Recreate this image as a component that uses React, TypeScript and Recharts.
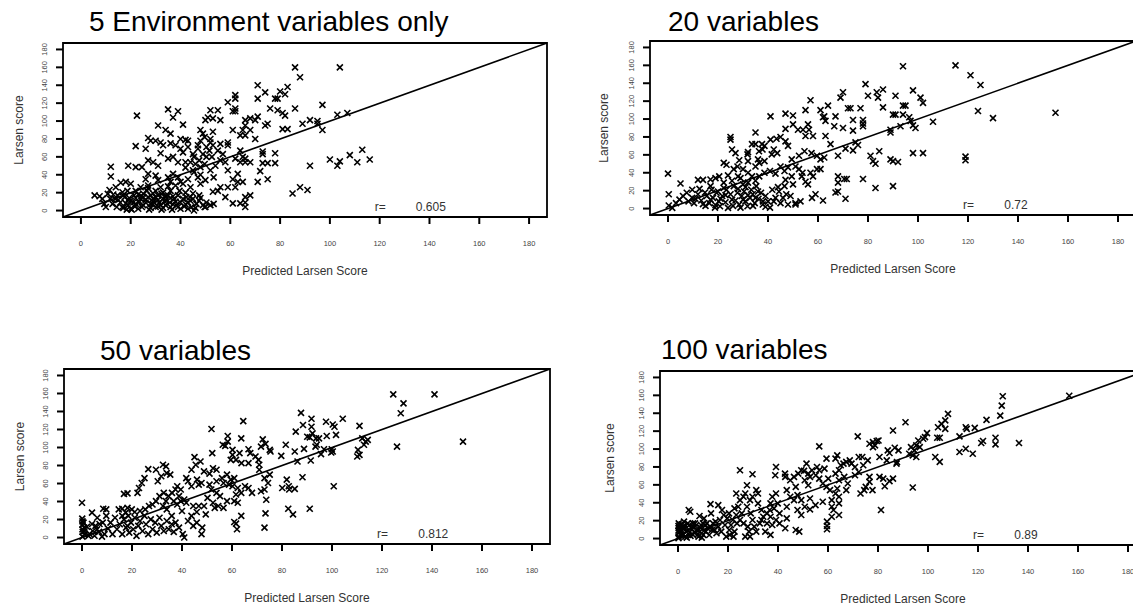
import { ScatterChart, Scatter, XAxis, YAxis, ReferenceArea, ReferenceLine } from "recharts";

// Both axes run 0..180, padded by 4% each side like R's default plot region
const AXIS_MIN = -7.2;
const AXIS_MAX = 187.2;
const AXIS_TICKS = [0, 20, 40, 60, 80, 100, 120, 140, 160, 180];

const PANEL_TITLES = ["5 Environment variables only", "20 variables", "50 variables", "100 variables"];
const R_VALUES = ["0.605", "0.72", "0.812", "0.89"];
const X_LABEL = "Predicted Larsen Score";
const Y_LABEL = "Larsen score";

// [predicted, observed]
const envOnlyPoints: [number, number][] = [
  [86, 160], [88, 149], [104, 160], [71, 140], [83, 138], [74, 132], [80, 133], [82, 130], [62, 129], [62, 125],
  [71, 125], [78, 125], [79, 125], [59, 121], [97, 118], [86, 114], [76, 114], [62, 114], [52, 112], [55, 112],
  [61, 111], [62, 111], [79, 112], [81, 109], [103, 107], [107, 109], [82, 106], [71, 105], [68, 103], [66, 101],
  [70, 101], [89, 97], [92, 101], [95, 97], [97, 90], [81, 91], [83, 91], [95, 100], [56, 101], [53, 103],
  [51, 104], [50, 101], [61, 90], [66, 95], [65, 90], [68, 90], [70, 80], [66, 84], [64, 84], [74, 95],
  [75, 97], [53, 88], [52, 80], [48, 90], [49, 86], [59, 76], [59, 73], [73, 66], [73, 63], [78, 64],
  [68, 54], [73, 53], [75, 53], [78, 53], [72, 44], [75, 35], [71, 32], [113, 68], [108, 62], [116, 57],
  [100, 57], [104, 55], [111, 54], [103, 50], [92, 50], [88, 26], [91, 23], [85, 19], [59, 45], [61, 35],
  [63, 41], [63, 32], [65, 32], [62, 26], [59, 26], [56, 26], [55, 22], [53, 21], [61, 8], [64, 8],
  [66, 15], [68, 17], [66, 9], [66, 4], [58, 15], [52, 6], [50, 4], [62, 58], [64, 54], [65, 60],
  [64, 67], [66, 58], [66, 54], [56, 56], [57, 63], [55, 67], [53, 73], [52, 76], [54, 50], [58, 54],
  [22.5, 106], [35, 113], [39, 111], [37, 104], [41, 96], [31, 95], [34, 90], [36, 86], [22, 72], [27, 81],
  [26, 69], [28, 78], [30, 78], [32, 76], [33, 73], [36, 75], [38, 73], [40, 80], [42, 79], [43, 78],
  [40, 69], [41, 65], [43, 71], [45, 63], [47, 69], [32, 64], [27, 56], [29, 54], [35, 58], [37, 60],
  [39, 54], [31, 50], [24.5, 48.5], [22, 48.5], [19, 50], [12, 49], [12, 38], [27, 41], [30, 39], [35, 37],
  [37, 41], [39, 37], [42, 48], [45, 45], [46, 52], [47, 37], [48, 40], [50, 34], [48, 30], [43, 35],
  [40, 32], [36, 32], [31, 34], [26, 35], [24, 26], [27, 28], [32, 26], [16, 31], [18, 32], [20, 30],
  [11.5, 23], [22, 22], [36, 22], [42, 20], [45, 19], [5.5, 17], [7.5, 16], [8.6, 13], [9.4, 7.5], [10, 4],
  [12.7, 7.5], [13.8, 13], [14.7, 17], [15.8, 9], [16.6, 4], [17.6, 15], [18.4, 1], [19, 6], [20, 11], [20.4, 1],
  [21.3, 17], [22, 7.5], [24, 13], [24.5, 4], [25, 19], [26, 9], [27, 15], [27.4, 1], [28, 7.5], [29, 13],
  [30, 4], [31, 17], [31.4, 9], [32.4, 1], [33, 13], [34, 6], [35, 17], [35.7, 9], [36.6, 1], [37.4, 13],
  [38.3, 6], [39, 17], [40, 9], [41.5, 4.5], [42.3, 15], [43, 9], [44.4, 4], [45, 13], [46.4, 7.5], [47.5, 11],
  [49, 6], [50.4, 9], [45.4, 0], [18, 8], [19.4, 14], [16.7, 20.5], [18.7, 22], [14, 26], [26.5, 22], [30, 22],
  [32.4, 18.6], [39.6, 22], [28.8, 7.5], [31, 4.5], [33.7, 10], [21.6, 4.5], [23.3, 9], [24.2, 16], [14.4, 4], [11.8, 13],
  [10.8, 18.6], [37, 7], [41, 13], [43.8, 15], [47.5, 17], [49.7, 4], [53.3, 7.5], [45.4, 60], [47.5, 56], [48, 48.5],
  [49.7, 52], [50.4, 60], [49, 63], [47, 73], [48, 78], [49.7, 82], [50.4, 71], [51.6, 67], [52.6, 60], [56, 74.5],
  [45.4, 43], [52, 45], [53.3, 37], [42, 54], [44, 54], [17, 3], [19, 12], [21, 9], [23, 2], [25, 6],
  [26, 12], [28, 3], [29, 10], [30, 15], [32, 6], [33, 3], [34, 12], [36, 4], [37, 16], [38, 10],
  [40, 2], [42, 7], [44, 11], [46, 3], [48, 14], [29, 19], [33, 20], [23, 18], [15, 12], [13, 18],
  [27, 25], [35, 27], [38, 28], [44, 26], [41, 30], [17, 17], [20, 2], [22, 14], [28, 17], [31, 12],
  [34, 16], [39, 4], [43, 2], [25, 15], [36, 14],
];

const twentyVarPoints: [number, number][] = [
  [94, 159], [115, 160], [121, 149], [125, 138], [155, 107], [124, 109], [130, 101], [119, 58], [119, 54], [90, 25],
  [83, 23], [102, 62], [98, 62], [92, 52], [89, 55], [90, 53], [81, 59], [82, 53], [83, 50], [78, 33],
  [70.5, 33], [71.5, 33], [68, 36], [68, 29], [68, 19], [67, 18], [71, 11], [79, 139], [83.5, 130], [84, 124],
  [80, 126], [86, 133], [91, 126], [98, 132], [101, 124], [102, 118], [95, 115], [94, 115], [86, 113], [77, 112],
  [73, 112], [72, 112], [69, 124], [70, 130], [57, 121], [64, 115], [61, 110], [55, 110], [47, 106], [41, 103],
  [50, 104], [62.5, 103], [67, 103], [63, 98], [62, 102], [66.5, 92], [70, 90], [74, 87], [74, 99], [78, 99],
  [78, 92], [78, 95], [89, 88], [89, 85], [90, 105], [91, 105], [94, 105], [96.5, 102], [97, 98], [98, 93],
  [99, 90], [93, 92], [106, 97], [75, 74], [71, 67], [74, 65], [76, 71], [84.5, 64], [68, 59], [65, 72],
  [63, 81], [58, 81], [55, 81], [54, 88], [56, 94], [56.4, 88], [52, 88], [50, 94], [47, 89], [35, 85],
  [25, 80], [25, 77], [25.6, 66], [27, 62], [33.6, 72], [35, 72], [37.6, 72], [38.6, 70], [36.4, 64], [37.8, 66],
  [41, 77], [43.4, 78], [45, 80], [47, 75], [48, 70], [42.3, 66], [43.7, 62], [41.5, 60.5], [32, 63], [31.8, 60.5],
  [36, 55], [36.5, 51], [38.6, 53], [22.3, 51], [23.4, 49], [49.5, 55], [52.4, 59], [54.6, 64], [57.4, 62], [59.6, 59],
  [61, 55], [62.5, 57], [59.6, 44], [61, 44], [58, 36], [56, 27], [59, 16], [57.6, 12], [62, 9], [52.4, 44],
  [53.8, 40], [53.5, 36], [51, 47], [48, 46], [46.6, 42], [45, 47], [49.5, 36], [50, 27], [47.3, 16], [49, 14],
  [51, 4.5], [51, 6], [48, 4.5], [46, 12], [44.4, 19], [42.3, 8], [40.8, 1], [43, 39], [40.8, 42], [38.6, 40],
  [36.5, 36], [35, 31], [32, 29], [29, 34], [28, 36], [24, 37], [20.5, 36], [19, 34], [17, 32.5], [14, 32],
  [12, 32], [5, 28], [0, 39], [0.3, 16], [0.3, 3.4], [1.7, 0.7], [3.2, 6], [4.6, 10], [6, 14], [7.5, 17.6],
  [8.2, 8], [9.7, 12], [10.4, 6], [12, 16], [13.3, 9], [14.8, 18], [15.5, 14], [16.5, 6], [17.4, 21], [18, 12],
  [18.8, 1], [19.4, 17.6], [20.3, 8], [20.8, 2.6], [21.7, 14], [22.3, 23], [23, 7], [24, 0.7], [25, 16], [25.6, 10],
  [26.3, 25], [27.8, 17.6], [28.5, 4.5], [29.5, 14], [30.4, 19], [31, 8], [31.8, 2.6], [32.8, 12], [33.3, 21], [33.9, 16],
  [34.7, 6], [35.3, 25], [36.2, 11], [37.2, 17.6], [37.9, 4.5], [39, 14], [40, 8], [41.7, 21], [43, 12], [45, 6],
  [46.6, 25], [53, 8], [22.3, 29], [25.6, 31], [30, 27], [23.4, 21], [17, 25], [12.6, 22], [9.7, 21], [33.6, 36],
  [32, 40], [30, 44], [27.8, 47], [26.3, 44], [35, 47], [32, 53], [28.5, 54], [19, 4], [21, 11], [23, 15],
  [26, 3], [27, 9], [29, 1], [30, 10], [32, 15], [34, 3], [35, 12], [36, 19], [38, 8], [39, 2],
  [20, 19], [17, 10], [15, 3], [11, 11], [14, 5], [28, 22], [31, 24], [44, 24], [47, 32], [55, 30],
  [57, 40],
];

const fiftyVarPoints: [number, number][] = [
  [124.5, 159], [141, 159], [128.6, 149], [127.5, 138], [126, 101], [152.4, 106.5], [100.7, 57], [87.6, 138.5], [91.8, 132], [104.3, 132],
  [97.6, 128.6], [100.3, 125.6], [101, 123], [88.4, 125], [91.8, 123], [111, 124], [85.5, 117.6], [92.2, 115.7], [101.6, 114], [97.9, 112.8],
  [91.1, 111.3], [90.1, 112], [93.6, 110.2], [94.8, 110.2], [93.9, 103], [93.4, 101], [81.5, 103], [88.8, 98.5], [99.9, 98], [100.3, 95.5],
  [99.7, 94.4], [95.6, 92.6], [96.8, 98], [110.4, 97.4], [111, 91.8], [110.1, 90], [112.1, 110.2], [113.5, 106.5], [114.3, 108.4], [112.8, 103],
  [85.1, 95.5], [86.2, 84.5], [79.7, 90.7], [91.5, 85.6], [88.2, 67], [81.9, 64.3], [82.7, 57], [80.1, 55], [85.1, 54], [82.9, 53.3],
  [82.5, 32], [84.4, 25.7], [91.1, 32], [73.4, 26.8], [73, 11], [73.7, 42], [71.6, 51.4], [73, 53.3], [74.4, 60.6], [75.1, 69.8],
  [73, 66], [70.9, 75.3], [75.1, 97.4], [75.4, 95.5], [71.6, 101], [73.4, 104], [72.3, 109], [66.6, 98], [67.3, 93.7], [69.4, 90],
  [70.6, 86.3], [70.9, 80.8], [66.6, 82.7], [63.8, 82.7], [63, 93.7], [63.7, 110.2], [64.5, 129.3], [58.3, 112.8], [58.3, 106.5], [56.3, 103],
  [57.3, 101.8], [51.8, 120.5], [52.1, 93.7], [60.2, 91.8], [60.2, 97.4], [61.6, 86.3], [59.5, 86.3], [52.4, 77], [53.8, 75.3], [51, 71],
  [48.8, 73.5], [45, 89.3], [47.4, 84.5], [45.5, 80.8], [43.8, 75.3], [41.7, 66], [42.4, 62.5], [46, 64.3], [46.7, 58.8], [43.8, 57],
  [47.8, 60.6], [51, 58.8], [53.8, 62.5], [56, 66], [58, 69.8], [59.5, 64.3], [60.9, 66], [56.6, 60.6], [58.8, 58.8], [60.2, 57],
  [62.3, 55], [65.2, 57], [66.6, 55], [68, 49.6], [63.7, 49.6], [61.6, 47.8], [60.9, 40.4], [62.3, 38.6], [58, 40.4], [55.2, 46],
  [53.8, 49.6], [51.7, 53.3], [50.2, 44], [52.4, 38.6], [54.5, 35], [56.6, 33], [53.1, 33], [60.9, 17.3], [63.7, 24], [62, 9.2],
  [61.6, 15.4], [49.5, 25.7], [46.7, 35], [48.8, 35], [44.5, 35], [45.9, 28.3], [43.8, 24], [40, 29.4], [42.4, 18.4], [45.9, 16.5],
  [48.1, 11], [47.8, 3.7], [44.5, 13], [40.9, 0], [40.3, 3.7], [38.8, 11], [37.4, 16.5], [35.9, 24], [33.9, 31.2], [32.4, 35],
  [33.6, 40.4], [34.6, 46], [36, 49.6], [37.4, 53.3], [38.1, 57], [39.5, 53.3], [38.8, 46], [39.5, 40.4], [40.9, 42.2], [41.7, 38.6],
  [38.1, 36.7], [36.7, 40.4], [32.4, 80.8], [33.6, 79], [29.6, 75.3], [26.5, 76], [25, 66], [23.9, 60.6], [22.8, 55], [22.2, 49.6],
  [18.2, 49], [30.3, 62.5], [31.7, 68], [33.9, 71.6], [35.3, 69.8], [32.7, 49.6], [31, 46], [29.6, 40.4], [28.2, 36.7], [26.8, 35],
  [25.3, 31.2], [23.2, 29.4], [21.1, 28.3], [18.2, 33], [16.1, 32], [14.7, 31.2], [4, 27.6], [8.5, 32], [0, 38.6], [0.1, 21],
  [0.6, 16.5], [0.9, 11], [0.3, 6.2], [1.1, 3.7], [2.6, 1.8], [4.3, 7.3], [5.4, 13], [6.8, 6.2], [8.3, 16.5], [9, 3.7],
  [9.7, 24], [10.4, 9.9], [11.4, 16.5], [12.2, 3.7], [13.2, 22], [14, 9.2], [15.1, 14.7], [16.1, 3.7], [16.8, 20.2], [17.6, 11],
  [18.5, 24], [18.9, 5.5], [19.6, 16.5], [20.5, 9.2], [21.1, 22], [21.8, 1.8], [22.5, 13], [23.2, 18.4], [24.2, 7.3], [25, 24],
  [25.6, 14.7], [26.5, 3.7], [27.5, 20.2], [28.2, 9.2], [29.3, 16.5], [29.9, 5.5], [31, 22], [31.7, 13], [32.7, 7.3], [33.9, 18.4],
  [34.7, 9.2], [35.9, 14.7], [36.7, 6.2], [18.2, 13], [17.5, 27.6], [19.9, 31.2], [16.1, 24], [9.7, 31.2], [6.1, 22], [16.8, 48.5],
  [0.2, 1], [0.2, 9], [0.2, 14], [0.2, 18], [1, 7], [2, 12], [3, 4], [4, 15], [5, 2], [6, 9],
  [7, 15], [8, 1],
];

const hundredVarPoints: [number, number][] = [
  [129.9, 159], [129.5, 148.5], [128.9, 137.4], [156.5, 159.6], [123.4, 132.6], [118.7, 123.7], [115.1, 124.4], [115.5, 122.6], [112.6, 114.1], [122, 109],
  [121.3, 106.7], [127, 112.6], [127, 105.2], [136.4, 106.7], [115.1, 100.4], [112.6, 96.7], [117.9, 94.8], [108, 139.3], [106.9, 132], [105.4, 128.1],
  [104, 124.4], [106.9, 122.6], [103.7, 112.6], [104.7, 112.6], [102.9, 91.1], [104.7, 85.6], [91, 130], [86, 120.7], [99.6, 117.8], [98.8, 113.3],
  [98.1, 111.5], [96.1, 109.6], [95.3, 104.1], [96.7, 102.2], [93.2, 102.2], [94.6, 98.5], [93.9, 93], [95.3, 91.1], [92.5, 94.8], [93.9, 57],
  [88.2, 98.5], [86.7, 101.5], [83.9, 98.5], [84.6, 95.6], [87.4, 83.7], [87.6, 85.5], [83.5, 87.4], [80.6, 91.1], [79.5, 109], [78, 107.8],
  [78, 102.2], [78.8, 104.1], [80.2, 109.6], [76.6, 105.9], [71.9, 114.1], [80.6, 68.9], [82.1, 67], [82.7, 58.5], [86, 67], [84.6, 64.1],
  [81.2, 31.9], [77.8, 54.1], [76.6, 63.3], [75.1, 57.8], [74.5, 54.1], [73, 50.4], [76.6, 68.9], [72.3, 91.1], [73.7, 91.1], [75.9, 87.4],
  [74.1, 81.9], [70.8, 80], [69.4, 83.7], [68.7, 87.4], [67.3, 85.6], [66.2, 83.7], [65.1, 81.9], [63.7, 93], [63, 89.3], [64.4, 76.3],
  [63, 72.6], [64.4, 65.2], [66.5, 68.9], [70.8, 70.7], [72.3, 74.4], [67.9, 61.5], [67.3, 54.1], [63.7, 55.9], [63, 50.4], [64.4, 46.7],
  [60.8, 54.1], [60.1, 67], [59.4, 57.8], [57.9, 61.5], [58.6, 78.1], [59.4, 89.3], [56.5, 103], [56.5, 76.3], [55.1, 70.7], [56.5, 67],
  [57.9, 41.1], [59.6, 18.9], [59.6, 14.1], [59.6, 10.4], [61.5, 43], [61.5, 35.6], [62.2, 31.9], [61.5, 24.4], [64.4, 39.3], [64.4, 26.3],
  [55, 37.4], [52.8, 32.6], [52.8, 44.8], [52.1, 59.6], [50.7, 65.2], [52.8, 68.9], [49.3, 76.3], [50.4, 75.6], [52.1, 72.6], [51.4, 83.7],
  [53.6, 76.3], [55.6, 80], [48.1, 72.6], [46.4, 68.9], [47.1, 57.8], [44.9, 65.2], [43.5, 54.1], [39.2, 80], [38.9, 70.7], [42.8, 72.6],
  [42.9, 68.9], [44.9, 46.7], [46.4, 43], [47.8, 48.5], [49.3, 43], [49.3, 26.3], [50.7, 35.6], [47.1, 9.6], [48.5, 7.8], [47.8, 31.9],
  [43.5, 35.6], [42.9, 11.5], [43.5, 22.6], [40.6, 28.1], [39.9, 39.3], [39.2, 50.4], [37.7, 46.7], [37, 39.3], [38.4, 33.7], [36.7, 31.9],
  [37, 24.4], [35.6, 17], [37, 4.1], [34.9, 7.8], [34.1, 24.4], [33.4, 31.9], [32, 39.3], [32, 50.4], [29.8, 71.9], [31.3, 54.1],
  [29.8, 46.7], [28.8, 43], [27.6, 59.6], [26.9, 50.4], [24.8, 76.3], [26.2, 46.7], [24.8, 43], [23.3, 50.4], [24.1, 35.6], [25.5, 28.1],
  [27.6, 35.6], [29.1, 28.1], [29.8, 20.7], [30.5, 13.3], [28.4, 7.8], [26.9, 2.2], [26.2, 17], [24.8, 20.7], [23.3, 26.3], [21.9, 20.7],
  [21.2, 15.2], [22.6, 7.8], [20.7, 4.1], [19.7, 22.6], [18.3, 26.3], [17.6, 31.9], [16.8, 20.7], [16.1, 13.3], [15.4, 5.9], [14, 17],
  [13.2, 28.1], [13, 38.5], [11.8, 11.5], [11.1, 7.8], [10.4, 22.6], [9.2, 15.2], [8.6, 25.2], [7.5, 9.6], [6.8, 17], [6, 4.1],
  [4.9, 30], [4.3, 31.9], [3.9, 17], [3.2, 7.8], [2, 13.3], [1, 4.1], [0.3, 17], [0.3, 11.5], [0.3, 6.7], [0.3, 2.2],
  [0.7, 15.2], [1.4, 9.6], [2.4, 18.9], [2.9, 2.2], [4.6, 6.7], [5.8, 13.3], [8.2, 2.2], [10.1, 4.1], [11.5, 17], [13.5, 9.6],
  [15, 18.9], [17.3, 7.8], [18.8, 15.2], [19.3, 2.2], [20.5, 9.6], [22.2, 2.2], [23.6, 17], [27.9, 13.3], [28.8, 2.2], [31.3, 7.8],
  [32.7, 17], [33.4, 20.7], [35.6, 28.1], [37.7, 15.2], [39.2, 20.7], [40.6, 17], [16.1, 37.4], [20.4, 28.1], [22.6, 33.7], [0.5, 13],
  [1, 8], [1.5, 16], [2, 4], [2.5, 11], [3, 14], [3.5, 1], [4, 9], [4.5, 15], [5, 3], [5.5, 11],
  [6.5, 7], [7, 14], [8, 5], [9, 12], [9.5, 1], [10.5, 9], [11, 15], [12.5, 4], [13, 13], [14.5, 10],
  [0.2, 9], [0.2, 14], [0.2, 0.5], [1.8, 12], [6, 17], [8, 9], [10, 17],
];

type Panel = {
  title: string;
  r: string;
  points: [number, number][];
  left: number; // plot region, page pixels
  top: number;
  width: number;
  height: number;
  titleX: number;
  titleY: number;
  yLabelX: number;
};

const PANELS: Panel[] = [
  { title: PANEL_TITLES[0], r: R_VALUES[0], points: envOnlyPoints, left: 63, top: 43, width: 484, height: 174, titleX: 89, titleY: 31, yLabelX: 19 },
  { title: PANEL_TITLES[1], r: R_VALUES[1], points: twentyVarPoints, left: 650, top: 41, width: 486, height: 174, titleX: 668, titleY: 31, yLabelX: 604 },
  { title: PANEL_TITLES[2], r: R_VALUES[2], points: fiftyVarPoints, left: 64, top: 369, width: 486, height: 175, titleX: 100, titleY: 360, yLabelX: 20 },
  { title: PANEL_TITLES[3], r: R_VALUES[3], points: hundredVarPoints, left: 660, top: 371, width: 486, height: 174, titleX: 661, titleY: 359, yLabelX: 610 },
];

const FONT = "'Liberation Sans', Arial, Helvetica, sans-serif";
const Y_AXIS_W = 40;
const PAD = 6;
const X_AXIS_H = 40;
const TICK_LEN = 7;
const X_TICK_GAP = 19;
const Y_TICK_GAP = 11;

const toPxX = (p: Panel, v: number) => p.left + ((v - AXIS_MIN) / (AXIS_MAX - AXIS_MIN)) * p.width;
const toPxY = (p: Panel, v: number) => p.top + ((AXIS_MAX - v) / (AXIS_MAX - AXIS_MIN)) * p.height;

// pch = 4 style cross
// eslint-disable-next-line @typescript-eslint/no-explicit-any
const Cross = (props: any) => {
  const { cx, cy } = props;
  if (cx == null || cy == null) return null;
  const s = 3;
  return (
    <path
      d={`M${cx - s},${cy - s}L${cx + s},${cy + s}M${cx - s},${cy + s}L${cx + s},${cy - s}`}
      stroke="#000"
      strokeWidth={1.6}
      fill="none"
    />
  );
};

// tick mark + label; x/y arrive at the label anchor, so the mark sits back toward the box
// eslint-disable-next-line @typescript-eslint/no-explicit-any
const XTick = ({ x, y, payload }: any) => (
  <g>
    <line
      x1={x}
      x2={x}
      y1={Number(y) - X_TICK_GAP - TICK_LEN}
      y2={Number(y) - X_TICK_GAP}
      stroke="#000"
      strokeWidth={2}
    />
    <text x={x} y={y} textAnchor="middle" dominantBaseline="central" fontSize={7.5} fill="#444" fontFamily={FONT}>
      {payload.value}
    </text>
  </g>
);

// eslint-disable-next-line @typescript-eslint/no-explicit-any
const YTick = ({ x, y, payload }: any) => (
  <g>
    <line
      x1={Number(x) + Y_TICK_GAP + TICK_LEN}
      x2={Number(x) + Y_TICK_GAP}
      y1={y}
      y2={y}
      stroke="#000"
      strokeWidth={2}
    />
    <text
      x={x}
      y={y}
      transform={`rotate(-90 ${x} ${y})`}
      textAnchor="middle"
      dominantBaseline="central"
      fontSize={7.5}
      fill="#444"
      fontFamily={FONT}
    >
      {payload.value}
    </text>
  </g>
);

function ScatterPanel({ p }: { p: Panel }) {
  const data = p.points.map(([x, y]) => ({ x, y }));
  return (
    <div style={{ position: "absolute", left: p.left - Y_AXIS_W, top: p.top - PAD }}>
      <ScatterChart
        width={p.width + Y_AXIS_W + PAD}
        height={p.height + PAD + X_AXIS_H}
        margin={{ top: PAD, right: PAD, bottom: 0, left: 0 }}
      >
        <XAxis
          type="number"
          dataKey="x"
          domain={[AXIS_MIN, AXIS_MAX]}
          ticks={AXIS_TICKS}
          interval={0}
          allowDataOverflow
          axisLine={false}
          tickLine={false}
          tickSize={TICK_LEN}
          tickMargin={X_TICK_GAP}
          tick={XTick}
          height={X_AXIS_H}
        />
        <YAxis
          type="number"
          dataKey="y"
          domain={[AXIS_MIN, AXIS_MAX]}
          ticks={AXIS_TICKS}
          interval={0}
          allowDataOverflow
          axisLine={false}
          tickLine={false}
          tickSize={TICK_LEN}
          tickMargin={Y_TICK_GAP}
          tick={YTick}
          width={Y_AXIS_W}
        />
        <Scatter data={data} shape={Cross} isAnimationActive={false} />
        <ReferenceLine
          segment={[
            { x: AXIS_MIN, y: AXIS_MIN },
            { x: AXIS_MAX, y: AXIS_MAX },
          ]}
          stroke="#000"
          strokeWidth={1.6}
        />
        <ReferenceArea
          x1={AXIS_MIN}
          x2={AXIS_MAX}
          y1={AXIS_MIN}
          y2={AXIS_MAX}
          fill="none"
          fillOpacity={0}
          stroke="#000"
          strokeWidth={1.8}
        />
      </ScatterChart>
    </div>
  );
}

export default function App() {
  return (
    <div
      style={{
        position: "absolute",
        left: 0,
        top: 0,
        width: 1133,
        height: 607,
        overflow: "hidden",
        background: "#fff",
      }}
    >
      {PANELS.map((p) => (
        <ScatterPanel key={p.title} p={p} />
      ))}
      <svg width={1133} height={607} style={{ position: "absolute", left: 0, top: 0, pointerEvents: "none" }}>
        {PANELS.map((p) => {
          const cx = p.left + p.width / 2;
          const cy = p.top + p.height / 2;
          const base = toPxY(p, 0) + 0.5;
          return (
            <g key={p.title} fontFamily={FONT}>
              <text x={p.titleX} y={p.titleY} fontSize={28} fill="#000">
                {p.title}
              </text>
              <text
                x={p.yLabelX}
                y={cy}
                transform={`rotate(-90 ${p.yLabelX} ${cy})`}
                textAnchor="middle"
                dominantBaseline="central"
                fontSize={12}
                fill="#333"
              >
                {Y_LABEL}
              </text>
              <text x={cx} y={p.top + p.height + 58} textAnchor="middle" fontSize={12} fill="#333">
                {X_LABEL}
              </text>
              <text x={toPxX(p, 118)} y={base} fontSize={12} fill="#333">
                r=
              </text>
              <text x={toPxX(p, 134.5)} y={base} fontSize={12} fill="#333">
                {p.r}
              </text>
            </g>
          );
        })}
      </svg>
    </div>
  );
}
